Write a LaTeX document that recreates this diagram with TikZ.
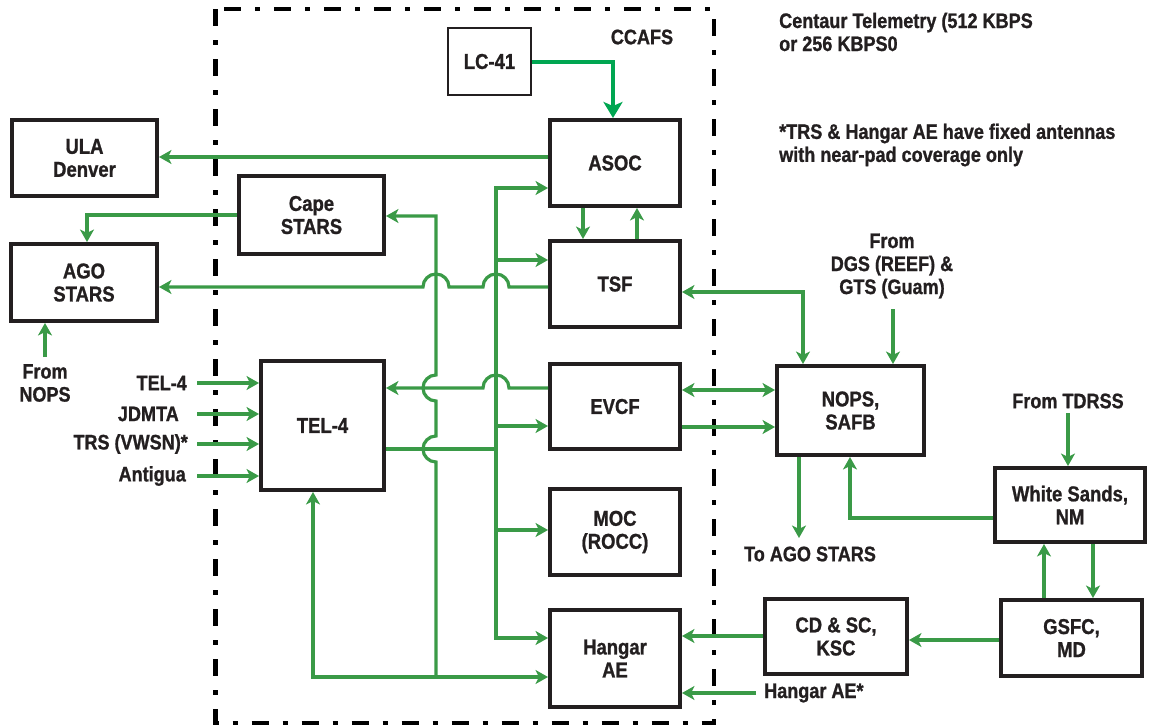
\documentclass[tikz,border=0pt]{standalone}
\usepackage{fontspec}
\setmainfont{Liberation Sans}[FakeStretch=0.86, BoldFeatures={FakeBold=1}]
\usetikzlibrary{arrows.meta}
\definecolor{gr}{HTML}{3A9A47}
\definecolor{brgr}{HTML}{00A651}
\definecolor{ink}{HTML}{231F20}
\tikzset{
  blk/.style={draw=ink, line width=4pt, fill=white, text=ink, align=center,
    font=\bfseries\fontsize{21.5}{23}\selectfont, inner sep=0pt},
  thinblk/.style={blk, line width=1.6pt},
  lbl/.style={text=ink, font=\bfseries\fontsize{21}{23}\selectfont, inner sep=0pt, align=center},
  wire/.style={draw=gr, line width=3.2pt},
  arr/.style={wire, -{Stealth[length=12.5pt,width=14pt,inset=3.5pt]}},
  darr/.style={wire, {Stealth[length=12.5pt,width=14pt,inset=3.5pt]}-{Stealth[length=12.5pt,width=14pt,inset=3.5pt]}},
  bigarr/.style={draw=brgr, line width=4pt, -{Stealth[length=16pt,width=19pt,inset=4pt]}},
  frame/.style={draw=black, line width=4.5pt, dash pattern=on 17pt off 14pt on 5pt off 14pt},
}
\begin{document}
\begin{tikzpicture}[x=1pt,y=-1pt]
\useasboundingbox (0,0) rectangle (1149,728);
% frame
\draw[frame] (215.5,9) rectangle (714,723);
% boxes
\node[blk, minimum width=145, minimum height=76] (ULA) at (84.5,158) {ULA\\Denver};
\node[blk, minimum width=146, minimum height=77] (AGO) at (84,282.5) {AGO\\STARS};
\node[blk, minimum width=145, minimum height=78] (Cape) at (311.5,215) {Cape\\STARS};
\node[thinblk, minimum width=83.5, minimum height=67.5] (LC) at (489.5,61.5) {LC-41};
\node[blk, minimum width=130, minimum height=86] (ASOC) at (615,163) {ASOC};
\node[blk, minimum width=130, minimum height=86] (TSF) at (615,284) {TSF};
\node[blk, minimum width=130, minimum height=85] (EVCF) at (615,406.5) {EVCF};
\node[blk, minimum width=130, minimum height=86] (MOC) at (615,532) {MOC\\(ROCC)};
\node[blk, minimum width=130, minimum height=97] (Hangar) at (615,658.5) {Hangar\\AE};
\node[blk, minimum width=123, minimum height=129] (TEL) at (322.5,425.5) {TEL-4};
\node[blk, minimum width=147, minimum height=89] (NOPS) at (850.5,410.5) {NOPS,\\SAFB};
\node[blk, minimum width=150, minimum height=74] (WS) at (1070,505) {White Sands,\\NM};
\node[blk, minimum width=142, minimum height=75] (CD) at (836,636.5) {CD \& SC,\\KSC};
\node[blk, minimum width=141, minimum height=76] (GSFC) at (1071.5,638) {GSFC,\\MD};
% labels
\node[lbl] (ccafs) at (642,37) {CCAFS};
\node[lbl, anchor=west, align=left] (cent) at (779,32) {Centaur Telemetry (512 KBPS\\or 256 KBPS0};
\node[lbl, anchor=west, align=left] (note) at (779,145) {*TRS \& Hangar AE have fixed antennas\\with near-pad coverage only};
\node[lbl] (dgs) at (892,266) {From\\DGS (REEF) \&\\GTS (Guam)};
\node[lbl] (tdrss) at (1068,401) {From TDRSS};
\node[lbl] (toago) at (810,554) {To AGO STARS};
\node[lbl, anchor=west] (hae) at (764,693) {Hangar AE*};
\node[lbl] (fnops) at (45,383) {From\\NOPS};
\node[lbl, anchor=east] (in1) at (187,383) {TEL-4};
\node[lbl, anchor=east] (in2) at (179,414) {JDMTA};
\node[lbl, anchor=east] (in3) at (188,444) {TRS (VWSN)*};
\node[lbl, anchor=east] (in4) at (186,476) {Antigua};
% coordinates
\coordinate (busTop) at (496,188);
\coordinate (busBot) at (496,638);
\coordinate (vTop) at (436,216);
\coordinate (vBot) at (436,677);
\coordinate (corner) at (313,677);
% connectors
\draw[bigarr] (LC.east |- 0,62) -| (613,0 |- ASOC.north);
\draw[arr] (ASOC.west |- 0,157) -- (ULA.east |- 0,157);
\draw[arr] (Cape.west |- 0,215) -| (87,0 |- AGO.north);
\draw[arr] (TSF.west |- 0,287) -- (509,287) arc(0:-180:13) -- (449,287) arc(0:-180:13) -- (AGO.east |- 0,287);
\draw[arr] (496,400) -- (busTop) -- (ASOC.west |- busTop);
\draw[arr] (496,400) -- (busBot) -- (Hangar.west |- busBot);
\draw[arr] (496,260) -- (TSF.west |- 0,260);
\draw[arr] (496,426) -- (EVCF.west |- 0,426);
\draw[arr] (496,530) -- (MOC.west |- 0,530);
\draw[wire] (TEL.east |- 0,449) -- (497.5,449);
\draw[arr] (EVCF.west |- 0,388) -- (509,388) arc(0:-180:13) -- (TEL.east |- 0,388);
\draw[arr] (vBot) -- (436,462) arc(90:270:13) -- (436,401) arc(90:270:13) -- (vTop) -- (Cape.east |- vTop);
\draw[arr] (corner) -- (Hangar.west |- corner);
\draw[arr] (vBot) -- (corner) -- (corner |- TEL.south);
\draw[arr] (583,0 |- ASOC.south) -- (583,0 |- TSF.north);
\draw[arr] (637,0 |- TSF.north) -- (637,0 |- ASOC.south);
\draw[darr] (TSF.east |- 0,292) -| (803,0 |- NOPS.north);
\draw[arr] (893,309) -- (893,0 |- NOPS.north);
\draw[darr] (EVCF.east |- 0,390) -- (NOPS.west |- 0,390);
\draw[arr] (EVCF.east |- 0,427) -- (NOPS.west |- 0,427);
\draw[arr] (799,0 |- NOPS.south) -- (799,538);
\draw[arr] (WS.west |- 0,518) -| (850,0 |- NOPS.south);
\draw[arr] (1068,413) -- (1068,0 |- WS.north);
\draw[arr] (1044,0 |- GSFC.north) -- (1044,0 |- WS.south);
\draw[arr] (1093,0 |- WS.south) -- (1093,0 |- GSFC.north);
\draw[arr] (GSFC.west |- 0,640) -- (CD.east |- 0,640);
\draw[arr] (CD.west |- 0,636) -- (Hangar.east |- 0,636);
\draw[arr] (756,693) -- (Hangar.east |- 0,693);
\foreach \yy in {383,414,444,476} \draw[arr] (197,\yy) -- (TEL.west |- 0,\yy);
\draw[arr] (45,357) -- (45,0 |- AGO.south);
\end{tikzpicture}
\end{document}
